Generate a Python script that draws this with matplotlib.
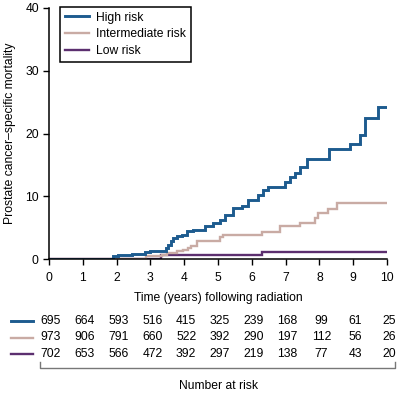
import numpy as np
import matplotlib
matplotlib.use("Agg")
import matplotlib.pyplot as plt
from matplotlib.transforms import blended_transform_factory

plt.rcParams['font.family'] = ['Liberation Sans', 'DejaVu Sans']

# step curves: time where step starts, cumulative mortality after the step
high_t = [0, 1.88, 2.05, 2.45, 2.85, 3.0, 3.45, 3.52, 3.6, 3.68, 3.8, 3.93, 4.07, 4.27,
          4.62, 4.86, 5.06, 5.2, 5.45, 5.7, 5.9, 6.19, 6.34, 6.49, 6.98, 7.13, 7.28,
          7.43, 7.62, 8.29, 8.9, 9.2, 9.35, 9.74]
high_v = [0, 0.4, 0.6, 0.85, 1.1, 1.35, 1.8, 2.3, 2.9, 3.3, 3.6, 3.9, 4.5, 4.65,
          5.2, 5.7, 6.2, 7.0, 8.1, 8.5, 9.4, 10.2, 11.0, 11.4, 12.3, 13.1, 13.7,
          14.7, 16.0, 17.5, 18.4, 19.7, 22.5, 24.3]

inter_t = [0, 2.87, 3.35, 3.5, 3.8, 3.95, 4.1, 4.2, 4.37, 5.06, 5.15, 6.3, 6.83,
           7.43, 7.87, 7.97, 8.26, 8.51]
inter_v = [0, 0.4, 0.7, 0.95, 1.2, 1.5, 1.8, 2.1, 2.9, 3.5, 3.8, 4.3, 5.2,
           5.8, 6.5, 7.3, 7.9, 8.9]

low_t = [0, 3.3, 6.29]
low_v = [0, 0.6, 1.1]

t_end = 10

labels = ["High risk", "Intermediate risk", "Low risk"]
colors = ["#1d5b8f", "#c9aba4", "#5c2f6f"]
widths = [2.1, 1.7, 1.7]

# number at risk
years = [0, 1, 2, 3, 4, 5, 6, 7, 8, 9, 10]
risk_high = [695, 664, 593, 516, 415, 325, 239, 168, 99, 61, 25]
risk_inter = [973, 906, 791, 660, 522, 392, 290, 197, 112, 56, 26]
risk_low = [702, 653, 566, 472, 392, 297, 219, 138, 77, 43, 20]

W, H = 397, 393
fig = plt.figure(figsize=(W / 100, H / 100), dpi=100)
ax = fig.add_axes([49 / W, 1 - 259 / H, 338 / W, 251 / H])

fs = 8.7
curves = [(high_t, high_v), (inter_t, inter_v), (low_t, low_v)]
# draw low first so high sits on top
for i in [2, 1, 0]:
    t, v = curves[i]
    ax.step(list(t) + [t_end], list(v) + [v[-1]], where='post',
            color=colors[i], lw=widths[i], label=labels[i], solid_joinstyle='miter')

ax.set_xlim(0, 10)
ax.set_ylim(0, 40)
ax.set_xticks(years)
ax.set_yticks([0, 10, 20, 30, 40])
ax.spines['top'].set_visible(False)
ax.spines['right'].set_visible(False)
ax.spines['left'].set_linewidth(1.1)
ax.spines['bottom'].set_linewidth(1.1)
ax.tick_params(direction='out', length=4.3, width=1.0, labelsize=fs)
ax.tick_params(axis='x', pad=5)
ax.tick_params(axis='y', pad=3)

ax.set_ylabel("Prostate cancer\u2013specific mortality", fontsize=fs)
ax.yaxis.set_label_coords(-0.115, 0.5)
ax.yaxis.label.set_va('center')
ax.set_xlabel("Time (years) following radiation", fontsize=fs)
ax.xaxis.set_label_coords(0.5, -(298 - 259) / 251)
ax.xaxis.label.set_va('center')

handles, labs = ax.get_legend_handles_labels()
order = [2, 1, 0]
leg = ax.legend([handles[k] for k in order], [labs[k] for k in order],
                loc='upper left', bbox_to_anchor=(0.032, 1.005), fontsize=fs,
                fancybox=False, edgecolor='black', framealpha=1,
                handlelength=2.0, handletextpad=0.6, labelspacing=0.38,
                borderpad=0.4, borderaxespad=0)
leg.get_frame().set_linewidth(1.1)

# number at risk table
tr = blended_transform_factory(ax.transData, fig.transFigure)
rows = [risk_high, risk_inter, risk_low]
row_y = [321, 337.5, 354]
for r, vals in enumerate(rows):
    yf = 1 - row_y[r] / H
    ax.plot([-1.13, -0.46], [yf, yf], color=colors[r], lw=widths[r],
            transform=tr, clip_on=False)
    for x, n in zip(years, vals):
        ax.text(x + 0.06, yf, str(n), transform=tr, ha='center', va='center',
                fontsize=fs, clip_on=False)

# bracket under the table
yb = 1 - 368 / H
yt = 1 - 362 / H
ax.plot([-0.26, -0.26, 10.25, 10.25], [yt, yb, yb, yt], color='#777777', lw=1.0,
        transform=tr, clip_on=False)
ax.text(5.0, 1 - 386 / H, "Number at risk", transform=tr, ha='center', va='center',
        fontsize=fs)

fig.savefig("out.png", dpi=100)
